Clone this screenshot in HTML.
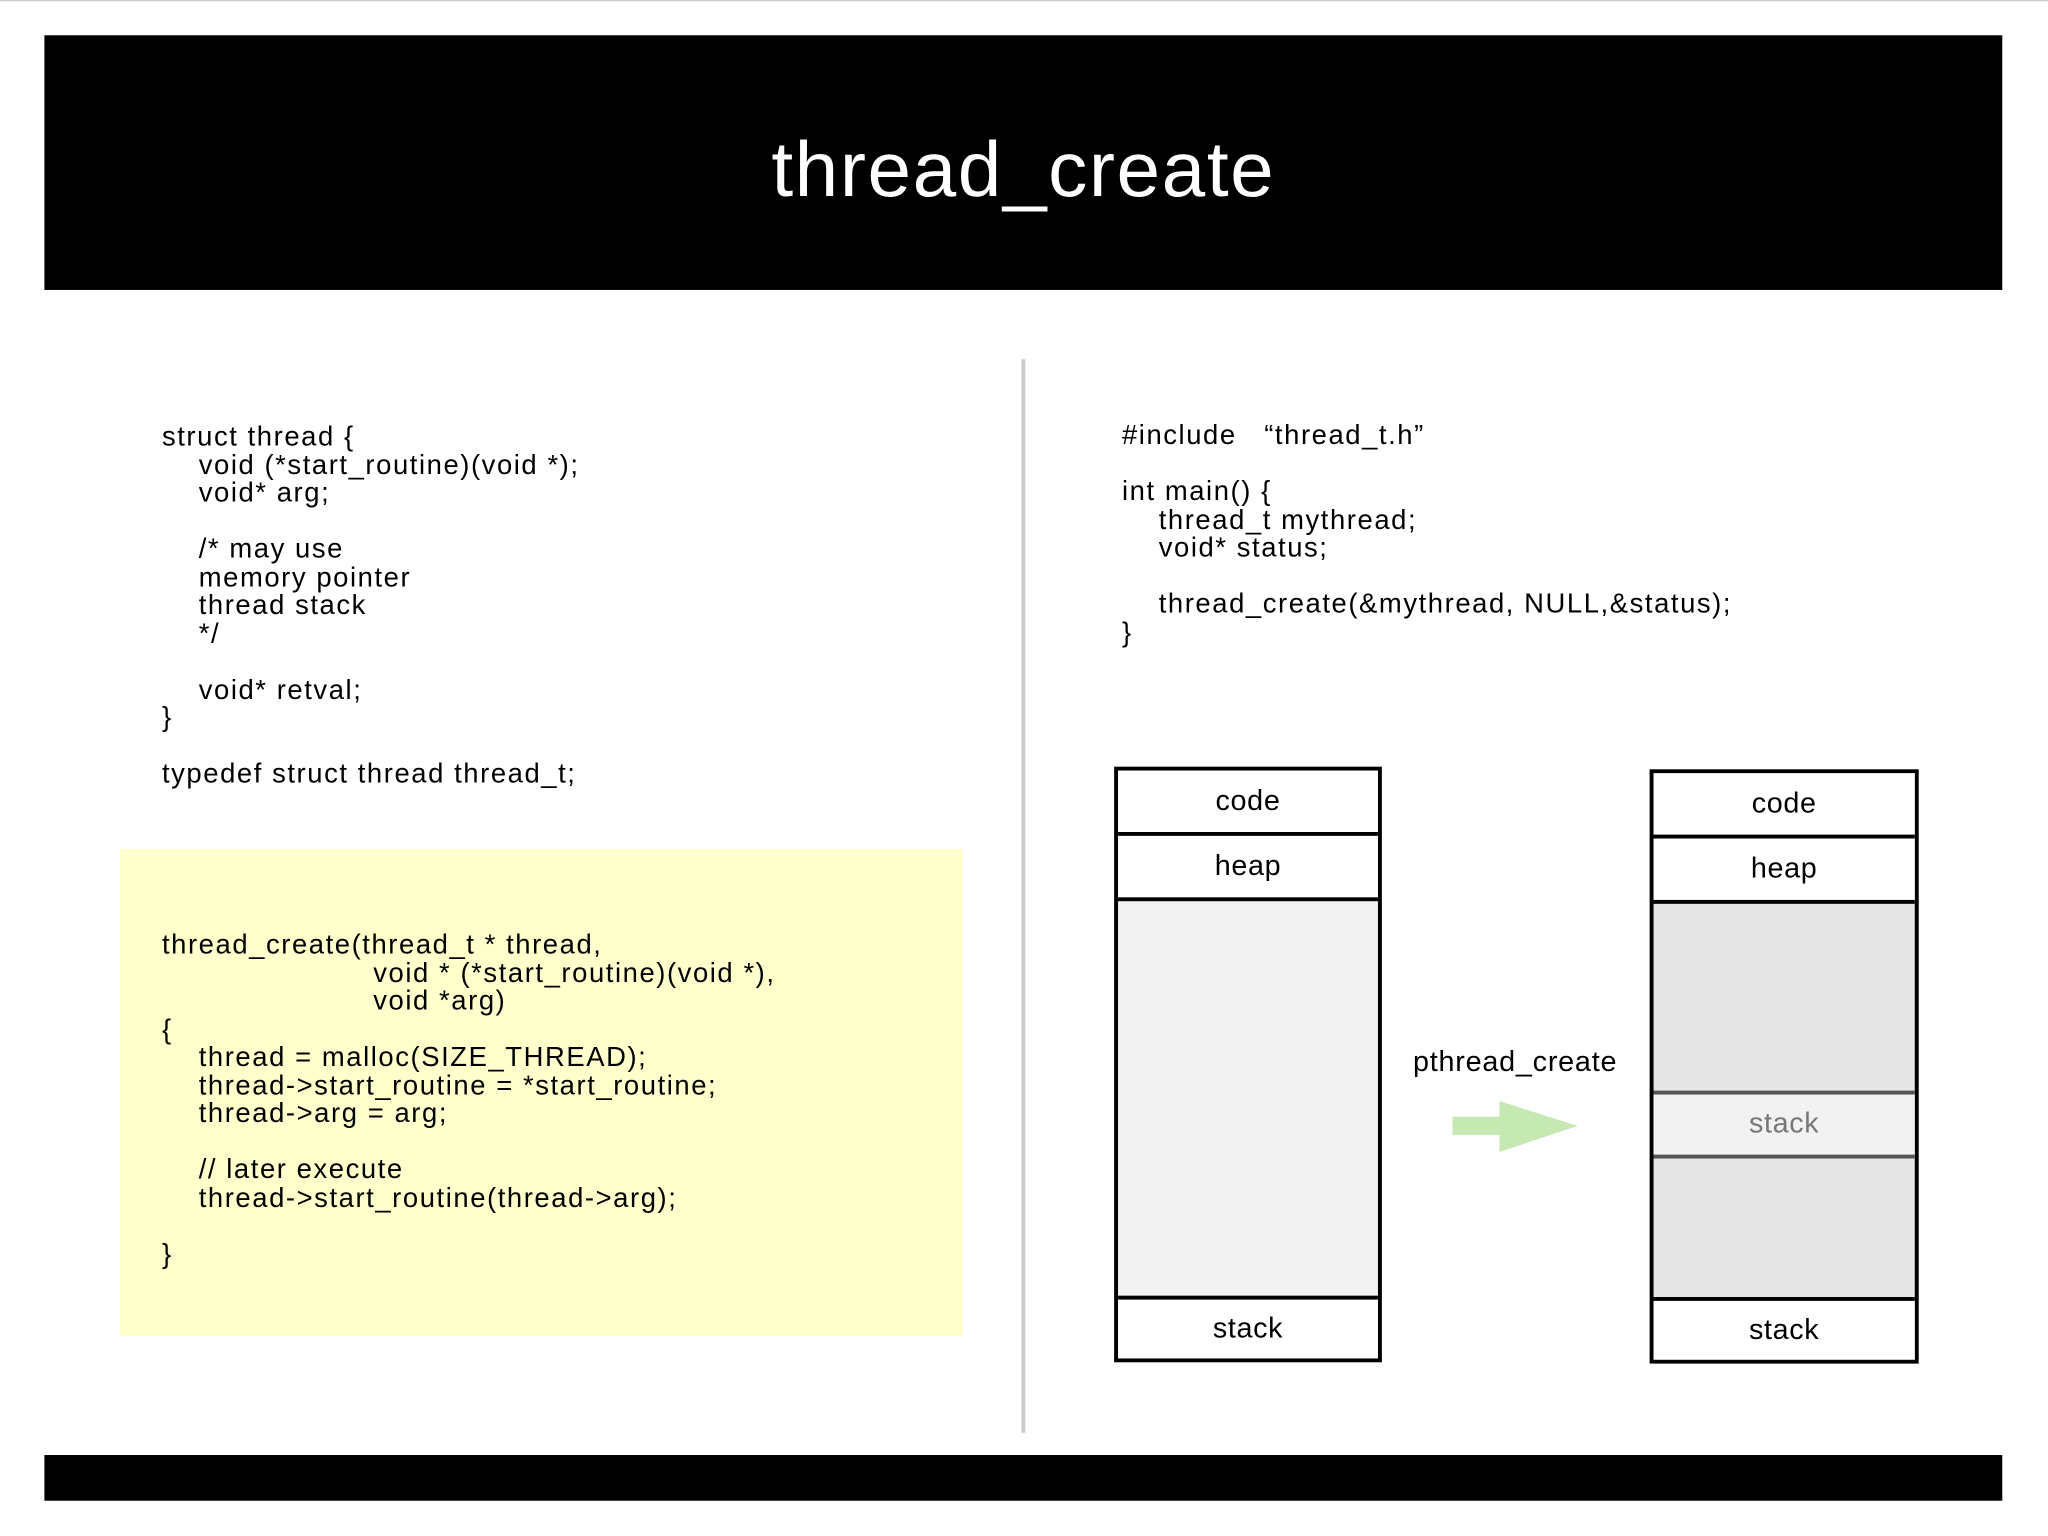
<!DOCTYPE html>
<html><head><meta charset="utf-8"><style>
html,body{margin:0;padding:0;background:#fff;width:2048px;height:1536px;overflow:hidden}
#s{position:absolute;left:0;top:0;width:1568px;height:1176px;transform:scale(1.306122);transform-origin:0 0;font-family:"Liberation Sans","DejaVu Sans",sans-serif;color:#000}
.a{position:absolute}
.code{position:absolute;font-size:21px;line-height:21.5px;white-space:pre;letter-spacing:1.2px}
.box{position:absolute;border:3px solid #000;box-sizing:border-box}
.cell{position:absolute;left:0;right:0;text-align:center;font-size:22px;box-sizing:border-box;letter-spacing:0.5px}
</style></head><body><div id="s">
<div class="a" style="left:0;top:0;width:1568px;height:1px;background:#ccc"></div>
<div class="a" style="left:34px;top:27px;width:1499px;height:195px;background:#000"></div>
<div class="a" style="left:34px;top:90px;width:1499px;text-align:center;color:#fff;font-size:60px;line-height:80px;letter-spacing:1.2px">thread_create</div>
<div class="a" style="left:34px;top:1114px;width:1499px;height:35px;background:#000"></div>
<div class="a" style="left:782px;top:275px;width:3px;height:822px;background:#ccc"></div>

<div class="code" style="left:124px;top:324px">struct thread {
    void (*start_routine)(void *);
    void* arg;

    /* may use
    memory pointer
    thread stack
    */

    void* retval;
}

typedef struct thread thread_t;</div>

<div class="a" style="left:92px;top:650px;width:645px;height:373px;background:#ffffcc"></div>
<div class="code" style="left:124px;top:713px">thread_create(thread_t * thread,
                       void * (*start_routine)(void *),
                       void *arg)
{
    thread = malloc(SIZE_THREAD);
    thread-&gt;start_routine = *start_routine;
    thread-&gt;arg = arg;

    // later execute
    thread-&gt;start_routine(thread-&gt;arg);

}</div>

<div class="code" style="left:859px;top:323px">#include   “thread_t.h”

int main() {
    thread_t mythread;
    void* status;

    thread_create(&amp;mythread, NULL,&amp;status);
}</div>

<div class="box" style="left:853px;top:587px;width:205px;height:456px;background:#f2f2f2">
 <div class="cell" style="top:0;height:50px;line-height:46px;background:#fff;border-bottom:3px solid #000">code</div>
 <div class="cell" style="top:50px;height:50px;line-height:46px;background:#fff;border-bottom:3px solid #000">heap</div>
 <div class="cell" style="top:402px;height:48px;line-height:44px;background:#fff;border-top:3px solid #000">stack</div>
</div>

<div class="box" style="left:1263px;top:589px;width:206px;height:455px;background:#e6e6e6">
 <div class="cell" style="top:0;height:50px;line-height:46px;background:#fff;border-bottom:3px solid #000">code</div>
 <div class="cell" style="top:50px;height:50px;line-height:46px;background:#fff;border-bottom:3px solid #000">heap</div>
 <div class="cell" style="top:243px;height:52px;line-height:44px;background:#f2f2f2;color:#777;border-top:3px solid #555;border-bottom:3px solid #555">stack</div>
 <div class="cell" style="top:401px;height:48px;line-height:44px;background:#fff;border-top:3px solid #000">stack</div>
</div>

<div class="a" style="left:1060px;top:800px;width:200px;text-align:center;font-size:22px;letter-spacing:0.6px">pthread_create</div>
<svg class="a" style="left:1100px;top:835px" width="120" height="60"><rect x="12" y="20" width="40" height="14" fill="#c6e9b4"/><polygon points="48,8 108,27 48,47" fill="#c6e9b4"/></svg>
</div></body></html>
